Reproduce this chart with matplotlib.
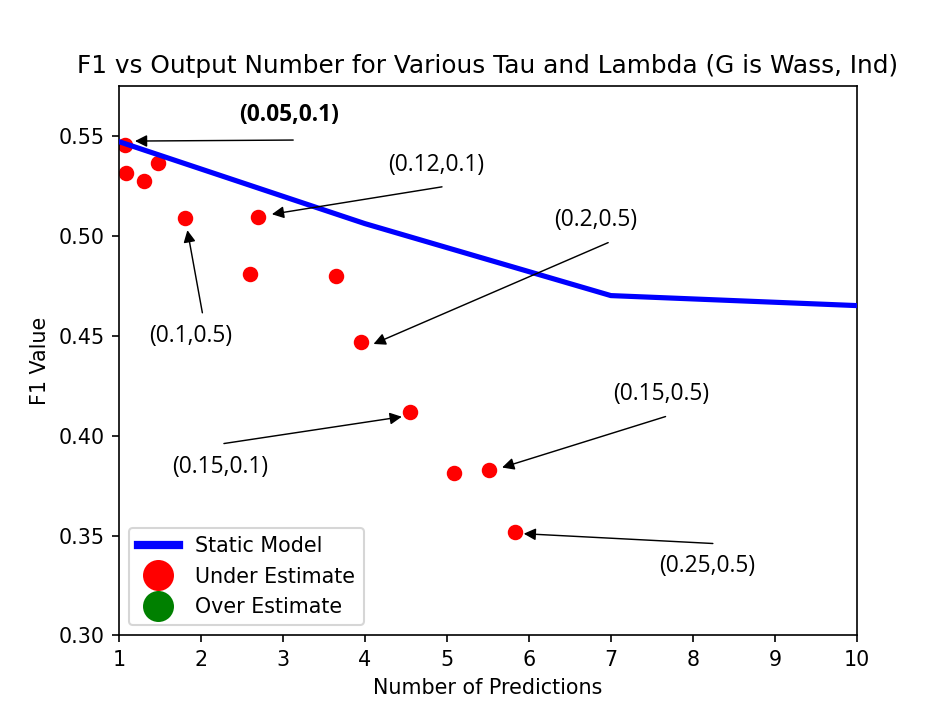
import matplotlib
matplotlib.use("Agg")
import matplotlib.pyplot as plt
from matplotlib.lines import Line2D

# static model curve
static_x = [1, 4, 7, 10]
static_f1 = [0.547, 0.506, 0.470, 0.465]

# (tau, lambda) runs, all under estimates
pred_counts = [1.07, 1.08, 1.31, 1.48, 1.81, 2.70, 2.60, 3.65, 3.95, 4.545, 5.09, 5.51, 5.83]
f1_values = [0.5453, 0.5314, 0.5274, 0.5361, 0.5088, 0.5092, 0.4809, 0.4796,
             0.4466, 0.4119, 0.3814, 0.3826, 0.3519]

labels = ["(0.05,0.1)", "(0.12,0.1)", "(0.1,0.5)", "(0.2,0.5)",
          "(0.15,0.1)", "(0.15,0.5)", "(0.25,0.5)"]

# label placement: text centre, arrow start, arrow tip
notes = [
    ((3.08, 0.5603), (3.125, 0.5478), (1.195, 0.5473)),
    ((4.87, 0.5353), (4.94, 0.5244), (2.865, 0.5107)),
    ((1.875, 0.4500), (2.017, 0.4614), (1.834, 0.5027)),
    ((6.82, 0.5080), (6.967, 0.4965), (4.105, 0.4458)),
    ((2.233, 0.3843), (2.28, 0.3960), (4.45, 0.4094)),
    ((7.614, 0.4208), (7.667, 0.4095), (5.673, 0.3840)),
    ((8.18, 0.3347), (8.244, 0.3460), (5.937, 0.3509)),
]

fig, ax = plt.subplots(figsize=(6.4, 4.8), dpi=148.75)

ax.plot(static_x, static_f1, color="b", lw=2.5, zorder=3)
ax.scatter(pred_counts, f1_values, color="r", s=42, zorder=2)

for i, (lab, (txt, start, tip)) in enumerate(zip(labels, notes)):
    ax.annotate("", xy=tip, xytext=start,
                arrowprops=dict(arrowstyle="-|>", color="black", lw=0.7,
                                mutation_scale=12, shrinkA=0, shrinkB=0))
    ax.text(txt[0], txt[1], lab, ha="center", va="center", fontsize=11,
            family="Open Sans", fontweight="bold" if i == 0 else "normal")

ax.set_xlim(1, 10)
ax.set_ylim(0.30, 0.575)
ax.set_xticks(range(1, 11))
ax.set_title("F1 vs Output Number for Various Tau and Lambda (G is Wass, Ind)")
ax.set_xlabel("Number of Predictions")
ax.set_ylabel("F1 Value")

handles = [
    Line2D([], [], color="b", lw=4),
    Line2D([], [], color="r", marker="o", ls="", markersize=14),
    Line2D([], [], color="g", marker="o", ls="", markersize=14),
]
ax.legend(handles, ["Static Model", "Under Estimate", "Over Estimate"], loc="lower left")

fig.savefig("out.png", dpi=148.75)
